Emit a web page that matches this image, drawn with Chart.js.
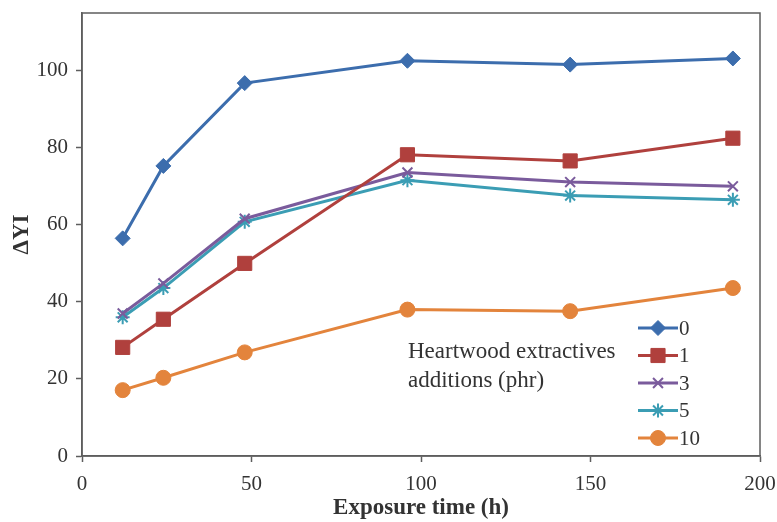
<!DOCTYPE html>
<html>
<head>
<meta charset="utf-8">
<script src="https://cdn.jsdelivr.net/npm/chart.js@4"></script>
<style>
  html, body { margin: 0; padding: 0; background: #fff; }
  #wrap { width: 777px; height: 522px; }
</style>
</head>
<body>
<div id="wrap"><canvas id="yi_chart" width="777" height="522"></canvas></div>
<script>
// exposure hours and yellowness change for each extractive loading
const hours = [12, 24, 48, 96, 144, 192];
const phr_labels = ["0", "1", "3", "5", "10"];
const yi_0 = [56.5, 75.3, 96.8, 102.6, 101.6, 103.2];
const yi_1 = [28.2, 35.5, 50.0, 78.2, 76.6, 82.5];
const yi_3 = [37.0, 44.8, 61.6, 73.6, 71.1, 70.0];
const yi_5 = [36.0, 43.6, 60.8, 71.6, 67.6, 66.5];
const yi_10 = [17.1, 20.3, 26.9, 38.0, 37.6, 43.6];
const x_ticks = [0, 50, 100, 150, 200];
const y_ticks = [0, 20, 40, 60, 80, 100];

const colors = ["#3c6dad", "#b0403d", "#7a5b9c", "#3b9db4", "#e3843c"];
const markers = ["rectRot", "rect", "crossRot", "star", "circle"];
const marker_size = [7.5, 10, 7, 7, 7.5];

const serif = "'Liberation Serif', 'Times New Roman', serif";
const text_color = "#333333";
const axis_color = "#5e5e5e";

function to_points(values) {
    return values.map((v, i) => ({ x: hours[i], y: v }));
}

// drop the automatic label overhang so the plot box sits where layout.padding puts it
function fix_scale(scale) {
    scale.paddingLeft = 0;
    scale.paddingRight = 0;
    scale.paddingTop = 0;
    scale.paddingBottom = 0;
}

const all_series = [yi_0, yi_1, yi_3, yi_5, yi_10];

const datasets = all_series.map((values, i) => ({
    label: phr_labels[i],
    data: to_points(values),
    borderColor: colors[i],
    backgroundColor: colors[i],
    borderWidth: 3,
    pointStyle: markers[i],
    pointRadius: marker_size[i],
    pointBorderWidth: (markers[i] === "crossRot" || markers[i] === "star") ? 2 : 1,
    pointBorderColor: colors[i],
    pointBackgroundColor: colors[i],
    fill: false,
    tension: 0
}));

// box around the plot area
const frame_plugin = {
    id: "frame",
    afterDraw(chart) {
        const { ctx, chartArea: a } = chart;
        ctx.save();
        ctx.strokeStyle = axis_color;
        ctx.lineWidth = 1.5;
        ctx.strokeRect(a.left, a.top, a.right - a.left, a.bottom - a.top);
        ctx.restore();
    }
};

// legend drawn as line + marker samples, with a note beside it
const side_legend = {
    id: "side_legend",
    afterDraw(chart) {
        const { ctx } = chart;
        const x0 = 638, x1 = 678, top = 328, step = 27.5;
        ctx.save();
        chart.data.datasets.forEach((ds, i) => {
            const y = top + i * step;
            ctx.strokeStyle = ds.borderColor;
            ctx.lineWidth = 3;
            ctx.beginPath();
            ctx.moveTo(x0, y);
            ctx.lineTo(x1, y);
            ctx.stroke();
            ctx.fillStyle = ds.pointBackgroundColor;
            ctx.strokeStyle = ds.pointBorderColor;
            ctx.lineWidth = ds.pointBorderWidth;
            Chart.helpers.drawPoint(ctx, {
                pointStyle: ds.pointStyle,
                radius: ds.pointRadius,
                rotation: 0,
                borderWidth: ds.pointBorderWidth
            }, (x0 + x1) / 2, y);
            ctx.fillStyle = text_color;
            ctx.font = "21px " + serif;
            ctx.textAlign = "left";
            ctx.textBaseline = "middle";
            ctx.fillText(ds.label, x1 + 1, y + 1);
        });
        ctx.fillStyle = text_color;
        ctx.font = "23px " + serif;
        ctx.textAlign = "left";
        ctx.textBaseline = "middle";
        ctx.fillText("Heartwood extractives", 408, 352);
        ctx.fillText("additions (phr)", 408, 381);
        ctx.restore();
    }
};

const chart_element = document.getElementById("yi_chart");

const chart = new Chart(chart_element, {
    type: "line",
    data: { datasets: datasets },
    plugins: [frame_plugin, side_legend],
    options: {
        responsive: false,
        animation: false,
        devicePixelRatio: 1,
        layout: { padding: { left: 0, top: 13, right: 17, bottom: 0 } },
        plugins: {
            legend: { display: false },
            tooltip: { enabled: false }
        },
        scales: {
            x: {
                type: "linear",
                min: 0,
                max: 200,
                afterBuildTicks(scale) {
                    scale.ticks = x_ticks.map(v => ({ value: v }));
                },
                afterFit(scale) {
                    scale.height = 66;
                    fix_scale(scale);
                },
                border: { display: true, color: axis_color, width: 1.5 },
                grid: {
                    drawOnChartArea: false,
                    drawTicks: true,
                    tickLength: 6,
                    tickColor: axis_color,
                    tickWidth: 1.5
                },
                ticks: {
                    color: text_color,
                    font: { family: serif, size: 21 },
                    padding: 10,
                    maxRotation: 0
                },
                title: {
                    display: true,
                    text: "Exposure time (h)",
                    color: text_color,
                    font: { family: serif, size: 23, weight: "bold" },
                    padding: { top: 0, bottom: 0 }
                }
            },
            y: {
                type: "linear",
                min: 0,
                max: 115,
                afterBuildTicks(scale) {
                    scale.ticks = y_ticks.map(v => ({ value: v }));
                },
                afterFit(scale) {
                    scale.width = 82;
                    fix_scale(scale);
                },
                border: { display: true, color: axis_color, width: 1.5 },
                grid: {
                    drawOnChartArea: false,
                    drawTicks: true,
                    tickLength: 6,
                    tickColor: axis_color,
                    tickWidth: 1.5
                },
                ticks: {
                    color: text_color,
                    font: { family: serif, size: 21 },
                    padding: 8
                },
                title: {
                    display: true,
                    text: "ΔYI",
                    color: text_color,
                    font: { family: serif, size: 23, weight: "bold" },
                    padding: { top: 8, bottom: 0 }
                }
            }
        }
    }
});
</script>
</body>
</html>
